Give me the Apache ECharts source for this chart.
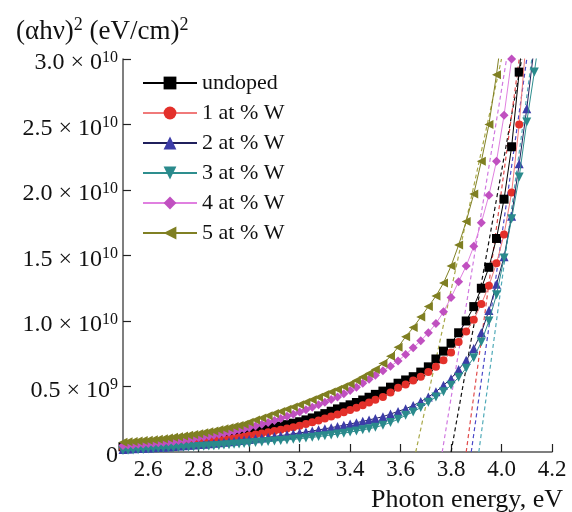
<!DOCTYPE html>
<html>
<head>
<meta charset="utf-8">
<script src="https://cdn.jsdelivr.net/npm/echarts@6/dist/echarts.min.js"></script>
<style>
  html, body { margin: 0; padding: 0; background: #fff; }
  #chart { width: 572px; height: 512px; }
</style>
</head>
<body>
<div id="chart"></div>
<script>
// photon energy, eV (points get sparser towards the band edge)
var energy = [
  2.50, 2.52, 2.54, 2.56, 2.58, 2.60, 2.62, 2.64, 2.66, 2.68, 2.70, 2.72, 2.74, 2.76, 2.78,
  2.80, 2.82, 2.84, 2.86, 2.88, 2.90, 2.92, 2.94, 2.96, 2.98, 3.00,
  3.025, 3.05, 3.075, 3.10, 3.125, 3.15, 3.175, 3.20, 3.225, 3.25, 3.275, 3.30, 3.325, 3.35,
  3.375, 3.40, 3.425, 3.45, 3.475, 3.50,
  3.53, 3.56, 3.59, 3.62, 3.65, 3.68, 3.71, 3.74, 3.77, 3.80, 3.83, 3.86, 3.89, 3.92, 3.95,
  3.98, 4.01, 4.04, 4.07, 4.10, 4.13, 4.16
];

// (αhν)^2 in units of 1e10 (eV/cm)^2
var undoped = [
  0.040, 0.042, 0.044, 0.046, 0.048, 0.050, 0.053, 0.056, 0.059, 0.062, 0.066, 0.070, 0.074, 0.078, 0.082,
  0.087, 0.092, 0.097, 0.102, 0.108, 0.114, 0.120, 0.127, 0.134, 0.141, 0.150,
  0.159, 0.168, 0.178, 0.188, 0.198, 0.209, 0.220, 0.231, 0.245, 0.260, 0.276, 0.293, 0.311, 0.329,
  0.345, 0.360, 0.378, 0.397, 0.418, 0.440,
  0.465, 0.495, 0.525, 0.55, 0.575, 0.61, 0.65, 0.71, 0.77, 0.83, 0.91, 1.00, 1.11, 1.25, 1.41,
  1.63, 1.93, 2.33, 2.90, 3.5
];
var w1 = [
  0.030, 0.032, 0.034, 0.036, 0.038, 0.040, 0.042, 0.044, 0.047, 0.050, 0.053, 0.056, 0.059, 0.063, 0.067,
  0.071, 0.075, 0.079, 0.084, 0.089, 0.094, 0.099, 0.105, 0.111, 0.117, 0.126,
  0.134, 0.142, 0.151, 0.160, 0.169, 0.179, 0.189, 0.200, 0.213, 0.227, 0.241, 0.256, 0.271, 0.287,
  0.303, 0.320, 0.338, 0.357, 0.377, 0.398,
  0.42, 0.455, 0.49, 0.515, 0.545, 0.575, 0.61, 0.65, 0.70, 0.76, 0.84, 0.92, 1.01, 1.13, 1.27,
  1.44, 1.66, 1.98, 2.50, 3.2
];
var w2 = [
  0.020, 0.022, 0.024, 0.026, 0.028, 0.030, 0.032, 0.034, 0.036, 0.039, 0.042, 0.045, 0.048, 0.051, 0.054,
  0.057, 0.060, 0.063, 0.067, 0.071, 0.075, 0.079, 0.083, 0.087, 0.091, 0.096,
  0.101, 0.107, 0.113, 0.119, 0.125, 0.132, 0.139, 0.146, 0.153, 0.161, 0.169, 0.177, 0.186, 0.195,
  0.204, 0.214, 0.224, 0.234, 0.245, 0.256,
  0.27, 0.29, 0.31, 0.33, 0.355, 0.385, 0.42, 0.46, 0.51, 0.56, 0.63, 0.70, 0.79, 0.91, 1.08,
  1.28, 1.49, 1.80, 2.20, 2.62, 3.1
];
var w3 = [
  0.012, 0.014, 0.016, 0.018, 0.020, 0.022, 0.024, 0.026, 0.028, 0.030, 0.032, 0.034, 0.036, 0.038, 0.040,
  0.042, 0.044, 0.046, 0.048, 0.050, 0.053, 0.056, 0.059, 0.062, 0.065, 0.068,
  0.072, 0.076, 0.080, 0.084, 0.088, 0.092, 0.097, 0.102, 0.107, 0.112, 0.118, 0.124, 0.130, 0.137,
  0.144, 0.152, 0.160, 0.169, 0.178, 0.188,
  0.205, 0.225, 0.25, 0.28, 0.305, 0.34, 0.38, 0.42, 0.46, 0.51, 0.57, 0.64, 0.72, 0.84, 1.00,
  1.20, 1.48, 1.78, 2.10, 2.52, 2.90, 3.3
];
var w4 = [
  0.050, 0.053, 0.056, 0.059, 0.062, 0.065, 0.068, 0.071, 0.075, 0.079, 0.083, 0.087, 0.092, 0.097, 0.103,
  0.110, 0.116, 0.122, 0.129, 0.136, 0.143, 0.151, 0.159, 0.167, 0.176, 0.186,
  0.199, 0.212, 0.226, 0.241, 0.256, 0.272, 0.288, 0.305, 0.323, 0.341, 0.360, 0.380, 0.400, 0.420,
  0.445, 0.470, 0.495, 0.525, 0.555, 0.585,
  0.62, 0.655, 0.695, 0.745, 0.795, 0.85, 0.91, 0.98, 1.07, 1.18, 1.30, 1.42, 1.57, 1.75, 1.96,
  2.22, 2.57, 3.0, 3.5
];
var w5 = [
  0.075, 0.078, 0.081, 0.084, 0.087, 0.090, 0.094, 0.098, 0.102, 0.107, 0.112, 0.117, 0.122, 0.128, 0.134,
  0.140, 0.147, 0.154, 0.161, 0.169, 0.177, 0.185, 0.194, 0.203, 0.212, 0.228,
  0.244, 0.260, 0.276, 0.293, 0.310, 0.327, 0.344, 0.360, 0.379, 0.398, 0.418, 0.438, 0.458, 0.478,
  0.499, 0.520, 0.545, 0.572, 0.600, 0.630,
  0.675, 0.73, 0.80, 0.88, 0.95, 1.03, 1.11, 1.19, 1.29, 1.42, 1.58, 1.76, 1.97, 2.22, 2.50,
  2.88, 3.32
];

// linear extrapolations to the energy axis: [E at zero, E where they reach the top]
var fitStart = [3.80, 3.86, 3.88, 3.91, 3.765, 3.66];
var fitEnd = [4.08, 4.07, 4.10, 4.12, 4.02, 4.00];

var names = ['undoped', '1 at % W', '2 at % W', '3 at % W', '4 at % W', '5 at % W'];
var values = [undoped, w1, w2, w3, w4, w5];
var yTicks = [0, 0.5, 1.0, 1.5, 2.0, 2.5, 3.0];
var yTickText = ['0', '0.5 × 10{s|9}', '1.0 × 10{s|10}', '1.5 × 10{s|10}', '2.0 × 10{s|10}', '2.5 × 10{s|10}', '3.0 × 0{s|10}'];
var xTicks = [2.6, 2.8, 3.0, 3.2, 3.4, 3.6, 3.8, 4.0, 4.2];

var font = 'Liberation Serif';
var markers = ['rect', 'circle', 'triangle', 'triangle', 'diamond', 'triangle'];
var rotations = [0, 0, 0, 180, 0, 90];
var markerColors = ['#000000', '#e3302a', '#3c3ca8', '#2a8a8c', '#c050c0', '#7f7f22'];
var lineColors = ['#000000', '#f07a7a', '#20205c', '#2e8e8e', '#e080e0', '#808024'];
var dashColors = ['#111111', '#e04a4a', '#4a48c8', '#50aab8', '#d078e0', '#a8a848'];

var chart = echarts.init(document.getElementById('chart'), null, { renderer: 'canvas' });

var series = [];
values.forEach(function(arr, i) {
  series.push({
    name: names[i] + ' fit',
    type: 'line',
    data: [[fitStart[i], 0], [fitEnd[i], 3]],
    symbol: 'none',
    lineStyle: { color: dashColors[i], width: 1.2, type: [4, 3] },
    z: 1
  });
});
values.forEach(function(arr, i) {
  series.push({
    name: names[i],
    type: 'line',
    data: arr.map(function(v, k) { return [energy[k], v]; }),
    symbol: markers[i],
    symbolSize: i === 1 ? 8 : 9,
    symbolRotate: rotations[i],
    itemStyle: { color: markerColors[i] },
    lineStyle: { color: lineColors[i], width: 1 },
    clip: true,
    z: 2 + i
  });
});

chart.setOption({
  animation: false,
  backgroundColor: '#ffffff',
  title: [
    {
      text: '(αhν){s|2} (eV/cm){s|2}',
      left: 11,
      top: 11,
      textStyle: {
        fontFamily: font, fontSize: 27, fontWeight: 'normal', color: '#111',
        rich: { s: { fontFamily: font, fontSize: 18, color: '#111', padding: [0, 0, 13, 0] } }
      }
    },
    {
      text: 'Photon energy, eV',
      right: 4,
      top: 482,
      textStyle: { fontFamily: font, fontSize: 26, fontWeight: 'normal', color: '#111' }
    }
  ],
  legend: {
    data: names,
    orient: 'vertical',
    left: 142,
    top: 72,
    itemWidth: 54,
    itemHeight: 16,
    itemGap: 8,
    padding: 0,
    textStyle: { fontFamily: font, fontSize: 22, lineHeight: 20, color: '#111' }
  },
  grid: { left: 123, right: 20, top: 59, bottom: 60 },
  xAxis: {
    type: 'value',
    min: 2.5,
    max: 4.2,
    axisLine: { lineStyle: { color: '#555', width: 1.5 } },
    axisTick: { inside: true, length: 8, customValues: xTicks, lineStyle: { color: '#222', width: 1.2 } },
    axisLabel: {
      customValues: xTicks,
      margin: 6,
      fontFamily: font, fontSize: 23, color: '#111',
      formatter: function(v) { return v.toFixed(1); }
    },
    splitLine: { show: false }
  },
  yAxis: {
    type: 'value',
    min: 0,
    max: 3,
    interval: 0.5,
    axisLine: { show: true, lineStyle: { color: '#555', width: 1.5 } },
    axisTick: { inside: true, length: 8, lineStyle: { color: '#222', width: 1.2 } },
    axisLabel: {
      margin: 5,
      padding: [8, 0, 0, 0],
      fontFamily: font, fontSize: 24, color: '#111',
      formatter: function(v) {
        var i = yTicks.indexOf(Math.round(v * 10) / 10);
        return i >= 0 ? yTickText[i] : '';
      },
      rich: { s: { fontFamily: font, fontSize: 16, color: '#111', padding: [0, 0, 11, 0] } }
    },
    splitLine: { show: false }
  },
  series: series
});
window.addEventListener('resize', function() { chart.resize(); });
</script>
</body>
</html>
